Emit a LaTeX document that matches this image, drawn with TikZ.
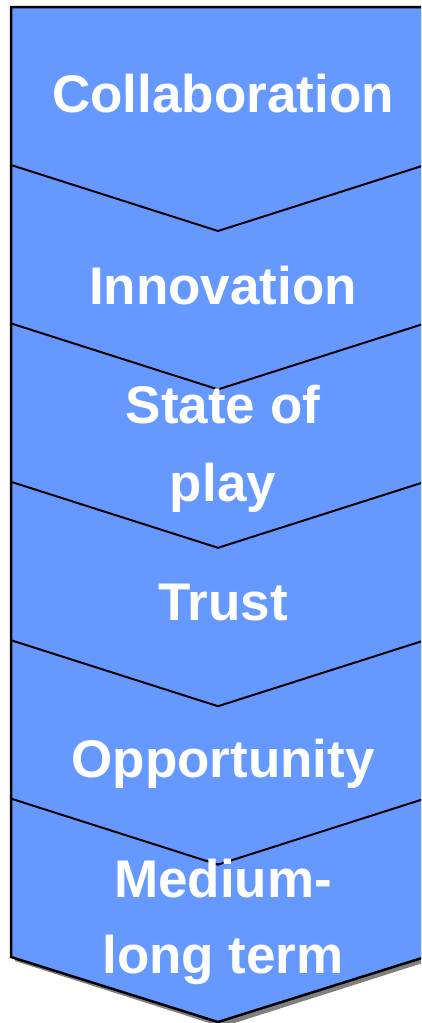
\documentclass[tikz,border=0pt]{standalone}
\usepackage{fontspec}
\setmainfont{Liberation Sans}
\definecolor{chevblue}{HTML}{6699FF}
\definecolor{shadowgray}{HTML}{808080}
\begin{document}
\begin{tikzpicture}[x=1pt,y=-1pt,
  label/.style={text=white,font=\fontsize{53}{60}\selectfont\bfseries,anchor=base,inner sep=0pt},
  sepline/.style={draw=black,line width=2pt,line join=miter}]
\useasboundingbox (0,0) rectangle (421,1023);
\clip (0,0) rectangle (421,1023);
% shadow
\fill[shadowgray] (15,11) -- (429,11) -- (429,961) -- (222,1027) -- (15,961) -- cycle;
% main shape
\filldraw[fill=chevblue,draw=black,line width=2.5pt,line join=miter]
  (11,7) coordinate (tl) -- (425,7) coordinate (tr) -- (425,957) coordinate (br)
  -- (218,1022) coordinate (tip) -- (11,957) coordinate (bl) -- cycle;
% separators
\foreach \y in {165,323.4,481.8,640.2,798.6}{
  \draw[sepline] (11,\y) -- (218,\y+66) -- (425,\y);
}
% labels
\node[label] (c1) at (223,112) {Collaboration};
\node[label] (c2) at (223,304) {Innovation};
\node[label] (c3a) at (223,423) {State of};
\node[label] (c3b) at (223,501) {play};
\node[label] (c4) at (223,620) {Trust};
\node[label] (c5) at (223,777) {Opportunity};
\node[label] (c6a) at (223,897) {Medium-};
\node[label] (c6b) at (223,973) {long term};
\end{tikzpicture}
\end{document}
